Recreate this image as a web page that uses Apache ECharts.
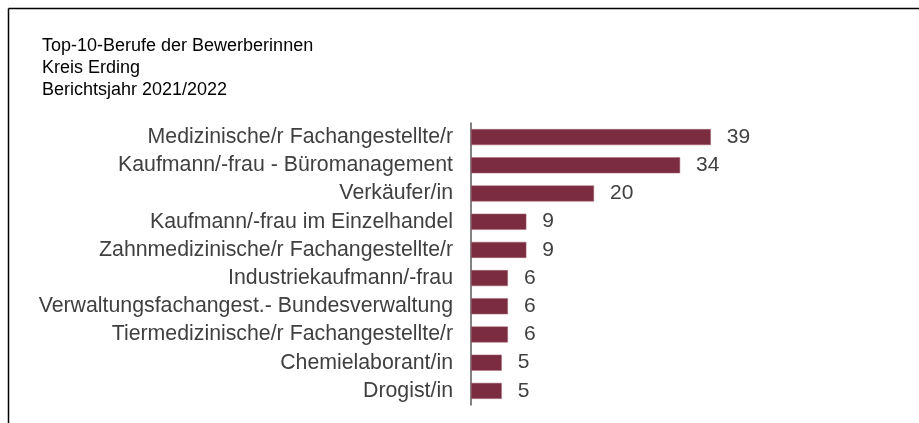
<!DOCTYPE html>
<html>
<head>
<meta charset="utf-8">
<script src="https://cdn.jsdelivr.net/npm/echarts@6/dist/echarts.min.js"></script>
<style>
  html, body { margin: 0; padding: 0; background: #fff; }
  #chart { width: 919px; height: 423px; }
</style>
</head>
<body>
<div id="chart"></div>
<script>
// Berufe, von oben nach unten
var berufe = [
  'Medizinische/r Fachangestellte/r',
  'Kaufmann/-frau - Büromanagement',
  'Verkäufer/in',
  'Kaufmann/-frau im Einzelhandel',
  'Zahnmedizinische/r Fachangestellte/r',
  'Industriekaufmann/-frau',
  'Verwaltungsfachangest.- Bundesverwaltung',
  'Tiermedizinische/r Fachangestellte/r',
  'Chemielaborant/in',
  'Drogist/in'
]
var anzahl = [39, 34, 20, 9, 9, 6, 6, 6, 5, 5]
var titelZeilen = ['Top-10-Berufe der Bewerberinnen', 'Kreis Erding', 'Berichtsjahr 2021/2022']

var fontName = 'Liberation Sans, Arial, sans-serif'
var chart = echarts.init(document.getElementById('chart'))

var option = {
  animation: false,
  textStyle: { fontFamily: fontName },
  title: {
    text: titelZeilen.join('\n'),
    left: 37,
    top: 30,
    textStyle: { fontSize: 18, fontWeight: 'normal', color: '#000', lineHeight: 22, fontFamily: fontName }
  },
  graphic: [
    // Rahmen oben und links
    { type: 'line', shape: { x1: 8.5, y1: 8.5, x2: 919, y2: 8.5 }, style: { stroke: '#000', lineWidth: 1.5 } },
    { type: 'line', shape: { x1: 8.5, y1: 8.5, x2: 8.5, y2: 423 }, style: { stroke: '#000', lineWidth: 1.5 } }
  ],
  grid: { left: 471, top: 123, width: 369, height: 282, containLabel: false },
  xAxis: {
    type: 'value',
    min: 0,
    max: 60,
    show: false
  },
  yAxis: {
    type: 'category',
    inverse: true,
    data: berufe,
    axisLine: { show: true, lineStyle: { color: '#595959', width: 1.5 } },
    axisTick: { show: false },
    axisLabel: { fontSize: 21.3, color: '#404040', margin: 18, padding: [3, 0, 0, 0], fontFamily: fontName }
  },
  series: [{
    type: 'bar',
    data: anzahl,
    barWidth: 16,
    itemStyle: { color: '#7b2c41', borderColor: '#a06472', borderWidth: 0.5 },
    label: {
      show: true,
      position: 'right',
      distance: 16,
      fontSize: 21,
      color: '#404040',
      padding: [3, 0, 0, 0],
      fontFamily: fontName
    }
  }]
}
chart.setOption(option)
</script>
</body>
</html>
